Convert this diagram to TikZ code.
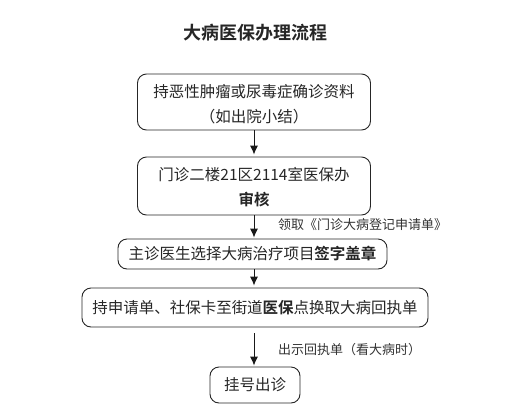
\documentclass[tikz,border=0pt]{standalone}
\usepackage{fontspec}
\setmainfont{Liberation Serif}
\newfontfamily\cjk{Noto Sans CJK SC}
\newfontfamily\cjkb{Noto Sans CJK SC Bold}
\usetikzlibrary{arrows.meta}
\begin{document}
\begin{tikzpicture}[x=1pt,y=-1pt,
  flowbox/.style={draw=black!85,line width=0.9pt,rounded corners=9pt,inner sep=0pt},
  flowtxt/.style={font=\cjk\fontsize{15.5}{18}\selectfont,text=black!85},
  lbl/.style={font=\cjk\fontsize{13}{15}\selectfont,text=black!80,anchor=west,inner sep=0pt},
  flowarrow/.style={draw=black!90,line width=0.9pt,-{Latex[length=9pt,width=8pt]}}]
\useasboundingbox (0,0) rectangle (531,408);
\node[font=\cjkb\fontsize{18}{20}\selectfont,text=black!85] (title) at (255,33) {大病医保办理流程};
% boxes
\node[flowbox,minimum width=233pt,minimum height=56pt] (b1) at (254,102) {};
\node[flowtxt] (t1a) at (254,92) {持恶性肿瘤或尿毒症确诊资料};
\node[flowtxt] (t1b) at (254,117) {（如出院小结）};
\node[flowbox,minimum width=233pt,minimum height=58pt] (b2) at (254,186) {};
\node[flowtxt] (t2a) at (254,175) {门诊二楼21区2114室医保办};
\node[flowtxt,font=\cjkb\fontsize{15.5}{18}\selectfont] (t2b) at (254,200) {审核};
\node[flowbox,minimum width=269pt,minimum height=30pt,flowtxt] (b3) at (252.5,254) {主诊医生选择大病治疗项目{\cjkb 签字盖章}};
\node[flowbox,minimum width=346pt,minimum height=39pt,flowtxt] (b4) at (255,307.5) {持申请单、社保卡至街道{\cjkb 医保}点换取大病回执单};
\node[flowbox,minimum width=90pt,minimum height=36pt,flowtxt] (b5) at (255,385) {挂号出诊};
% arrows
\draw[flowarrow,shorten >=2pt] (b1.south) -- (b2.north);
\draw[flowarrow,shorten >=1pt] (b2.south) -- (b3.north -| b2.south);
\draw[flowarrow,shorten >=2pt] (b3.south -| b2.south) -- (b4.north -| b2.south);
\draw[flowarrow,shorten <=6pt,shorten >=1pt] (b4.south -| b2.south) -- (b5.north -| b2.south);
\node[lbl] (l1) at (278,225) {领取《门诊大病登记申请单》};
\node[lbl] (l2) at (278,350) {出示回执单（看大病时）};
\end{tikzpicture}
\end{document}
